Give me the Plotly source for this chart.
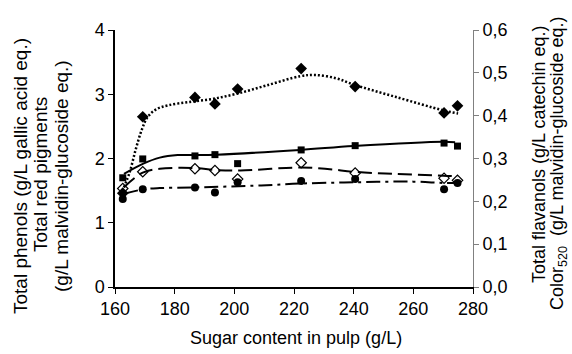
import plotly.graph_objects as go

# ---- data ----
sugar = [162.6, 169.3, 186.8, 193.5, 201.1, 222.4, 240.5, 270.3, 274.8]

# left axis series
phenols = [1.46, 2.65, 2.95, 2.85, 3.08, 3.40, 3.12, 2.71, 2.82]          # filled diamonds
red_pigments = [1.37, 1.52, 1.55, 1.47, 1.63, 1.65, 1.68, 1.52, 1.62]     # filled circles
# right axis series
flavanols = [0.255, 0.299, 0.306, 0.309, 0.288, 0.320, 0.330, 0.336, 0.329]  # filled squares
color520 = [0.230, 0.269, 0.276, 0.272, 0.252, 0.290, 0.266, 0.254, 0.249]   # open diamonds

# trend lines
phen_tx = [163, 165, 167, 169, 171, 174, 178, 185, 193, 201, 211, 222, 227, 234, 240, 254, 270, 275]
phen_ty = [1.55, 1.80, 2.15, 2.45, 2.65, 2.77, 2.83, 2.88, 2.93, 3.01, 3.14, 3.28, 3.30, 3.25, 3.15, 2.96, 2.75, 2.70]

red_tx = [163, 169.5, 175, 186, 209, 222, 240, 260, 270, 275]
red_ty = [1.45, 1.52, 1.54, 1.55, 1.58, 1.61, 1.63, 1.64, 1.62, 1.62]

flav_tx = [163, 169.5, 175, 181, 188, 194, 222, 240, 270, 274]
flav_ty = [0.264, 0.288, 0.302, 0.308, 0.308, 0.309, 0.320, 0.329, 0.339, 0.338]

col_tx = [163, 169.3, 175, 186, 194, 202, 222, 232, 240, 254, 270, 275]
col_ty = [0.233, 0.267, 0.276, 0.278, 0.273, 0.272, 0.279, 0.275, 0.269, 0.264, 0.260, 0.258]

x_ticks = [160, 180, 200, 220, 240, 260, 280]
left_ticks = [0, 1, 2, 3, 4]
right_ticks = [0.0, 0.1, 0.2, 0.3, 0.4, 0.5, 0.6]

FONT = "Liberation Sans, Arial, sans-serif"
FS = 18
TFS = 19

fig = go.Figure()

# trend lines
fig.add_trace(go.Scatter(x=phen_tx, y=phen_ty, mode="lines", line=dict(color="black", width=2.5, dash="2px,2px", shape="spline"), showlegend=False))
fig.add_trace(go.Scatter(x=red_tx, y=red_ty, mode="lines", line=dict(color="black", width=2, dash="14px,5px,3px,5px", shape="spline"), showlegend=False))
fig.add_trace(go.Scatter(x=flav_tx, y=flav_ty, mode="lines", yaxis="y2", line=dict(color="black", width=2, shape="spline"), showlegend=False))
fig.add_trace(go.Scatter(x=col_tx, y=col_ty, mode="lines", yaxis="y2", line=dict(color="black", width=2, dash="14px,6px", shape="spline"), showlegend=False))

# markers
fig.add_trace(go.Scatter(x=sugar, y=phenols, mode="markers", marker=dict(symbol="diamond", size=9, color="black"), name="Total phenols", showlegend=False))
fig.add_trace(go.Scatter(x=sugar, y=red_pigments, mode="markers", marker=dict(symbol="circle", size=8, color="black"), name="Total red pigments", showlegend=False))
fig.add_trace(go.Scatter(x=sugar, y=flavanols, mode="markers", yaxis="y2", marker=dict(symbol="square", size=7, color="black"), name="Total flavanols", showlegend=False))
fig.add_trace(go.Scatter(x=sugar, y=color520, mode="markers", yaxis="y2", marker=dict(symbol="diamond-open", size=8, color="black", line=dict(width=1.2)), name="Color520", showlegend=False))

L, R, T, B = 115, 99, 30, 67
W, H = 572, 354
pw, ph = W - L - R, H - T - B

def px(xp):
    return (xp - L) / pw

def py(yp):
    return (H - B - yp) / ph

fig.update_layout(
    width=W, height=H,
    margin=dict(l=L, r=R, t=T, b=B),
    paper_bgcolor="white", plot_bgcolor="white",
    separators=",.",
    font=dict(family=FONT, size=FS, color="black"),
    xaxis=dict(range=[160, 280], tickvals=x_ticks, showline=True, linecolor="black", linewidth=1.5,
               ticks="outside", ticklen=5, tickcolor="black", showgrid=False, zeroline=False,
               tickfont=dict(size=FS)),
    yaxis=dict(range=[0, 4], tickvals=left_ticks, showline=True, linecolor="black", linewidth=1.5,
               ticks="outside", ticklen=5, tickcolor="black", showgrid=False, zeroline=False,
               tickfont=dict(size=FS)),
    yaxis2=dict(range=[0, 0.6], tickvals=right_ticks, tickformat=".1f", overlaying="y", side="right",
                showline=True, linecolor="#808080", linewidth=1, ticks="outside", ticklen=5,
                tickcolor="#808080", showgrid=False, zeroline=False, tickfont=dict(size=FS)),
)

ann = [
    dict(text="Total phenols (g/L gallic acid eq.)", x=px(20), y=py(176), s=TFS),
    dict(text="Total red pigments", x=px(40), y=py(175), s=TFS),
    dict(text="(g/L malvidin-glucoside eq.)", x=px(61), y=py(176), s=TFS),
    dict(text="Total flavanols (g/L catechin eq.)", x=px(539), y=py(155), s=18),
    dict(text="Color<sub>520</sub>  (g/L malvidin-glucoside eq.)", x=px(559), y=py(164), s=18),
]
for a in ann:
    fig.add_annotation(xref="paper", yref="paper", x=a["x"], y=a["y"], text=a["text"], textangle=-90,
                       showarrow=False, xanchor="center", yanchor="middle", font=dict(size=a["s"]))
fig.add_annotation(xref="paper", yref="paper", x=px(296), y=py(338), text="Sugar content in pulp (g/L)",
                   showarrow=False, xanchor="center", yanchor="middle", font=dict(size=FS))

fig.write_html("out.html")
